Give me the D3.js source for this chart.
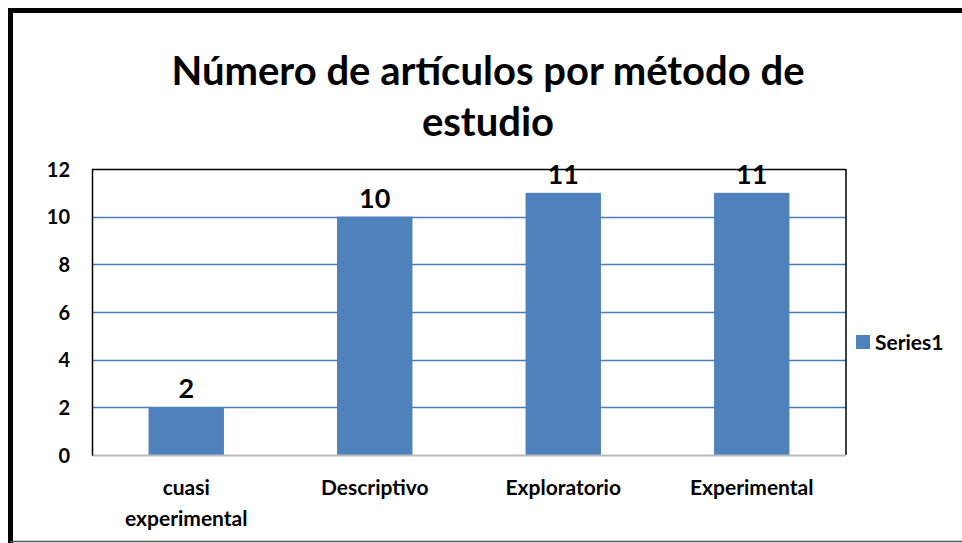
<!DOCTYPE html>
<html>
<head>
<meta charset="utf-8">
<script src="https://cdn.jsdelivr.net/npm/d3@7"></script>
<style>
  body { margin: 0; background: #fff; }
  text { font-family: Lato, "Noto Sans", sans-serif; font-weight: bold; fill: #000; }
</style>
</head>
<body>
<div id="chart"></div>
<script>
// chart data
const categories = ["cuasi experimental", "Descriptivo", "Exploratorio", "Experimental"];
const values = [2, 10, 11, 11];
const yTicks = [0, 2, 4, 6, 8, 10, 12];
const titleLines = ["Número de artículos por método de", "estudio"];
const seriesName = "Series1";

const W = 962, H = 543;
const margin = {top: 169, right: 116, bottom: 88, left: 92};
const width = W - margin.left - margin.right;
const height = H - margin.top - margin.bottom;

const svg = d3.select("#chart").append("svg")
    .attr("width", W)
    .attr("height", H);

// outer frame
svg.append("line").attr("x1", 8).attr("x2", W).attr("y1", 10.5).attr("y2", 10.5)
    .attr("stroke", "#000").attr("stroke-width", 5);
svg.append("line").attr("x1", 10.5).attr("x2", 10.5).attr("y1", 8).attr("y2", H)
    .attr("stroke", "#000").attr("stroke-width", 5);
svg.append("line").attr("x1", 10).attr("x2", W).attr("y1", 541.5).attr("y2", 541.5)
    .attr("stroke", "#555").attr("stroke-width", 1.5);

// title
svg.append("g").selectAll("text").data(titleLines).join("text")
    .attr("x", 488)
    .attr("y", (d, i) => 85 + i * 51)
    .attr("text-anchor", "middle")
    .style("font-size", "40px")
    .text(d => d);

const g = svg.append("g").attr("transform", `translate(${margin.left},${margin.top})`);

const x = d3.scaleBand().domain(categories).range([0, width]).padding(0);
const y = d3.scaleLinear().domain([0, 12]).range([height, 0]);
const barW = x.bandwidth() * 0.4;

// gridlines
g.append("g").selectAll("line").data(yTicks.filter(d => d > 0 && d < 12)).join("line")
    .attr("x1", 0).attr("x2", width)
    .attr("y1", d => Math.round(y(d)) + 0.5).attr("y2", d => Math.round(y(d)) + 0.5)
    .attr("stroke", "#4a7ebb").attr("stroke-width", 1.5);

// bars
g.append("g").selectAll("rect").data(values).join("rect")
    .attr("x", (d, i) => x(categories[i]) + (x.bandwidth() - barW) / 2)
    .attr("y", d => y(d))
    .attr("width", barW)
    .attr("height", d => height - y(d))
    .attr("fill", "#4f81bd");

// plot frame
g.append("line").attr("x1", 0).attr("x2", width).attr("y1", 0.5).attr("y2", 0.5)
    .attr("stroke", "#000").attr("stroke-width", 1.5);
g.append("line").attr("x1", width).attr("x2", width).attr("y1", 0).attr("y2", height)
    .attr("stroke", "#000").attr("stroke-width", 1.5);
g.append("line").attr("x1", 0).attr("x2", width).attr("y1", height + 0.5).attr("y2", height + 0.5)
    .attr("stroke", "#bbb").attr("stroke-width", 2);

// y axis
const yAxis = g.append("g")
    .call(d3.axisLeft(y).tickValues(yTicks).tickSize(0).tickPadding(22));
yAxis.select(".domain").attr("stroke", "#000").attr("stroke-width", 1.5);
yAxis.selectAll("text").style("font-size", "20px").attr("dy", "0.35em");

// x labels (wrap)
const xl = g.append("g").selectAll("text").data(categories).join("text")
    .attr("x", d => x(d) + x.bandwidth() / 2)
    .attr("y", height + 40)
    .attr("text-anchor", "middle")
    .style("font-size", "21px");
xl.each(function(d) {
    const words = d === "cuasi experimental" ? ["cuasi", "experimental"] : [d];
    d3.select(this).selectAll("tspan").data(words).join("tspan")
        .attr("x", x(d) + x.bandwidth() / 2)
        .attr("dy", (w, i) => i === 0 ? 0 : 31)
        .text(w => w);
});

// data labels
g.append("g").selectAll("text").data(values).join("text")
    .attr("x", (d, i) => x(categories[i]) + x.bandwidth() / 2)
    .attr("y", d => y(d) - 9)
    .attr("text-anchor", "middle")
    .style("font-size", "27px")
    .text(d => d);

// legend
const lg = svg.append("g").attr("transform", "translate(856,335)");
lg.append("rect").attr("width", 14).attr("height", 14).attr("fill", "#4f81bd");
lg.append("text").attr("x", 19).attr("y", 15).style("font-size", "21px").text(seriesName);
</script>
</body>
</html>
